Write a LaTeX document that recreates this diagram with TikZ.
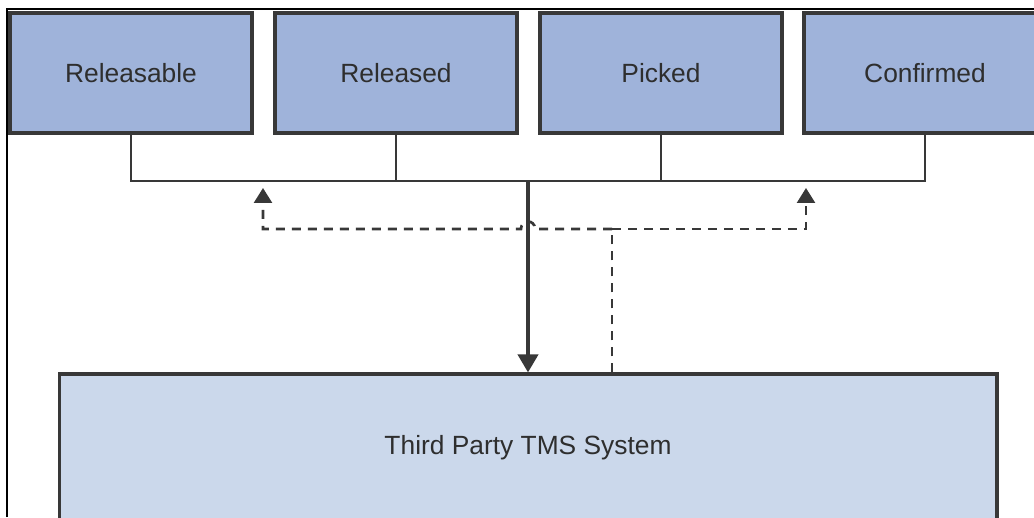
\documentclass[tikz,border=0pt]{standalone}
\usepackage{fontspec}
\setmainfont{Liberation Sans}
\usetikzlibrary{arrows.meta}
\definecolor{boxblue}{HTML}{9FB3DA}
\definecolor{boxpale}{HTML}{CBD8EB}
\definecolor{edgegray}{HTML}{383838}
\definecolor{textgray}{HTML}{2E2E2E}
\begin{document}
\begin{tikzpicture}[x=0.02cm, y=-0.02cm, line width=1.5pt, draw=edgegray,
    every node/.style={text=textgray, font=\fontsize{15}{18}\selectfont},
    status/.style={draw=edgegray, line width=1.8pt, fill=boxblue, minimum width=4.84cm, minimum height=2.4cm},
    system/.style={draw=edgegray, line width=1.8pt, fill=boxpale, minimum width=18.76cm, minimum height=2.96cm},
    feed/.style={line width=2.2pt, -{Triangle[length=0.36cm, width=0.4cm]}},
    reply/.style={dash pattern=on 0.18cm off 0.14cm, -{Triangle[length=0.3cm, width=0.36cm]}}]
    \useasboundingbox (0,0) rectangle (1034,517);
    \clip (0,0) rectangle (1034,517);
    \draw[black, line width=0.8pt] (7,517) -- (7,9) -- (1034,9);
    \node [status] (Releasable) at (131,73) {Releasable};
    \node [status] (Released) at (396,73) {Released};
    \node [status] (Picked) at (661,73) {Picked};
    \node [status] (Confirmed) at (925,73) {Confirmed};
    \node [system] (TMS) at (528,448) {Third Party TMS System};
    \coordinate (bus) at (528,181);
    \coordinate (split) at (612,229);
    \coordinate (left) at (263,229);
    \coordinate (right) at (806,229);
    \draw (Releasable.south) |- (bus) -| (Confirmed.south);
    \draw (Released.south) -- (Released.south |- bus);
    \draw (Picked.south) -- (Picked.south |- bus);
    \draw [feed] (bus) -- (TMS.north);
    \draw [dash pattern=on 0.18cm off 0.14cm] (TMS.north -| split) -- (split);
    \draw [reply] (split) -- (535,229) .. controls (535,219) and (521,219) .. (521,229) -- (left) -- (263,188);
    \draw [reply] (split) -- (right) -- (806,188);
\end{tikzpicture}
\end{document}
